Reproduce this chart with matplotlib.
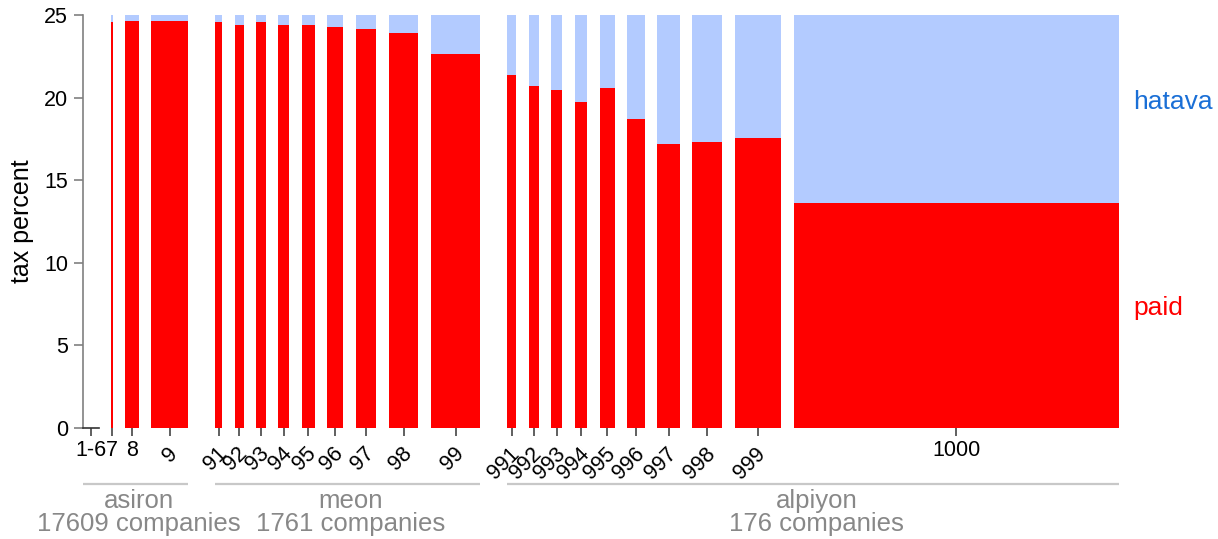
import matplotlib
matplotlib.use("Agg")
import matplotlib.pyplot as plt
import numpy as np
from matplotlib import transforms

plt.rcParams['font.family'] = ['Liberation Sans', 'DejaVu Sans']

# ---- data ----
categories = ["1-6", "7", "8", "9",
              "91", "92", "93", "94", "95", "96", "97", "98", "99",
              "991", "992", "993", "994", "995", "996", "997", "998", "999", "1000"]
group_of = [0, 0, 0, 0,
            1, 1, 1, 1, 1, 1, 1, 1, 1,
            2, 2, 2, 2, 2, 2, 2, 2, 2, 2]
group_names = ["asiron", "meon", "alpiyon"]
group_counts = ["17609 companies", "1761 companies", "176 companies"]
# relative bar widths (share)
shares = [16, 1.5, 13.3, 37,
          7.7, 8.7, 9.3, 11, 13, 15.7, 20.7, 29, 49.7,
          9.3, 10, 11, 12.3, 14.7, 17.7, 22.3, 29.7, 46.3, 325.5]
paid = [0, 24.6, 24.62, 24.62,
        24.6, 24.39, 24.6, 24.37, 24.39, 24.27, 24.15, 23.93, 22.66,
        21.37, 20.68, 20.46, 19.75, 20.56, 18.72, 17.19, 17.31, 17.55, 13.62]
hatava = [0, 0.4, 0.38, 0.38,
          0.4, 0.61, 0.4, 0.63, 0.61, 0.73, 0.85, 1.07, 2.34,
          3.63, 4.32, 4.54, 5.25, 4.44, 6.28, 7.81, 7.69, 7.45, 11.38]
yticks = [0, 5, 10, 15, 20, 25]

# ---- layout ----
W, H = 1218, 539
fig = plt.figure(figsize=(W / 100, H / 100), dpi=100)
ax_left, ax_right, ax_bottom, ax_top = 82.7, 1119, 428, 15
ax = fig.add_axes([ax_left / W, (H - ax_bottom) / H,
                   (ax_right - ax_left) / W, (ax_bottom - ax_top) / H])

gap = 12.6
group_gap = 26.5
lefts = []
x = 0.0
for i, w in enumerate(shares):
    if i > 0:
        x += group_gap if group_of[i] != group_of[i - 1] else gap
    lefts.append(x)
    x += w
lefts = np.array(lefts)
widths = np.array(shares)
centers = lefts + widths / 2

RED = '#ff0000'
BLUE = '#b3cbff'
ax.bar(lefts, paid, width=widths, align='edge', color=RED, linewidth=0)
ax.bar(lefts, hatava, width=widths, bottom=paid, align='edge', color=BLUE, linewidth=0)

ax.set_xlim(lefts[0], lefts[-1] + widths[-1])
ax.set_ylim(0, 25)

for s in ['top', 'right']:
    ax.spines[s].set_visible(False)
ax.spines['left'].set_color('#808080')
ax.spines['left'].set_linewidth(1.2)
ax.spines['bottom'].set_color('#333333')
ax.spines['bottom'].set_linewidth(1.2)
ax.spines['bottom'].set_bounds(lefts[0], lefts[0] + widths[0])

ax.set_yticks(yticks)
ax.set_yticklabels([str(v) for v in yticks], fontsize=15.5)
ax.tick_params(axis='y', length=6.5, width=1.2, color='#808080', pad=4)

ax.set_xticks(centers)
ax.set_xticklabels(categories, fontsize=15.5)
ax.tick_params(axis='x', length=6, width=1.2, color='#444444', pad=3)
for lbl, cat in zip(ax.get_xticklabels(), categories):
    if cat.startswith('9'):
        lbl.set_rotation(45)
        lbl.set_ha('right')
        lbl.set_va('center')
        lbl.set_rotation_mode('anchor')
        lbl.set_transform(lbl.get_transform() + transforms.ScaledTranslation(5/100, -10/100, fig.dpi_scale_trans))

fig.text(22 / W, 1 - 221 / H, 'tax percent', rotation=90, ha='center', va='center', fontsize=18)

# series labels at the last bar
last = len(categories) - 1
xr = lefts[last] + widths[last]
ax.annotate('hatava', xy=(xr, paid[last] + hatava[last] / 2), xytext=(14, 0),
            textcoords='offset pixels', ha='left', va='baseline', fontsize=19, color='#1a6fd6',
            annotation_clip=False)
ax.annotate('paid', xy=(xr, paid[last] / 2), xytext=(14, 0),
            textcoords='offset pixels', ha='left', va='baseline', fontsize=19, color=RED,
            annotation_clip=False)

# group brackets
trans = ax.get_xaxis_transform()
text_shift = transforms.ScaledTranslation(3.5 / 100, 0, fig.dpi_scale_trans)
axh = ax_bottom - ax_top
def yfrac(py):
    return (ax_bottom - py) / axh
for g, (name, cnt) in enumerate(zip(group_names, group_counts)):
    idx = [i for i, gg in enumerate(group_of) if gg == g]
    x0 = lefts[idx[0]]
    x1 = lefts[idx[-1]] + widths[idx[-1]]
    ax.plot([x0, x1], [yfrac(484), yfrac(484)], transform=trans, color='#c8c8c8',
            linewidth=1.6, clip_on=False, solid_capstyle='butt')
    xc = (x0 + x1) / 2
    ax.text(xc, yfrac(501), name, transform=trans + text_shift, ha='center', va='center',
            fontsize=18.5, color='#888888')
    ax.text(xc, yfrac(524), cnt, transform=trans + text_shift, ha='center', va='center',
            fontsize=18.5, color='#888888')

fig.savefig('out.png', dpi=100)
